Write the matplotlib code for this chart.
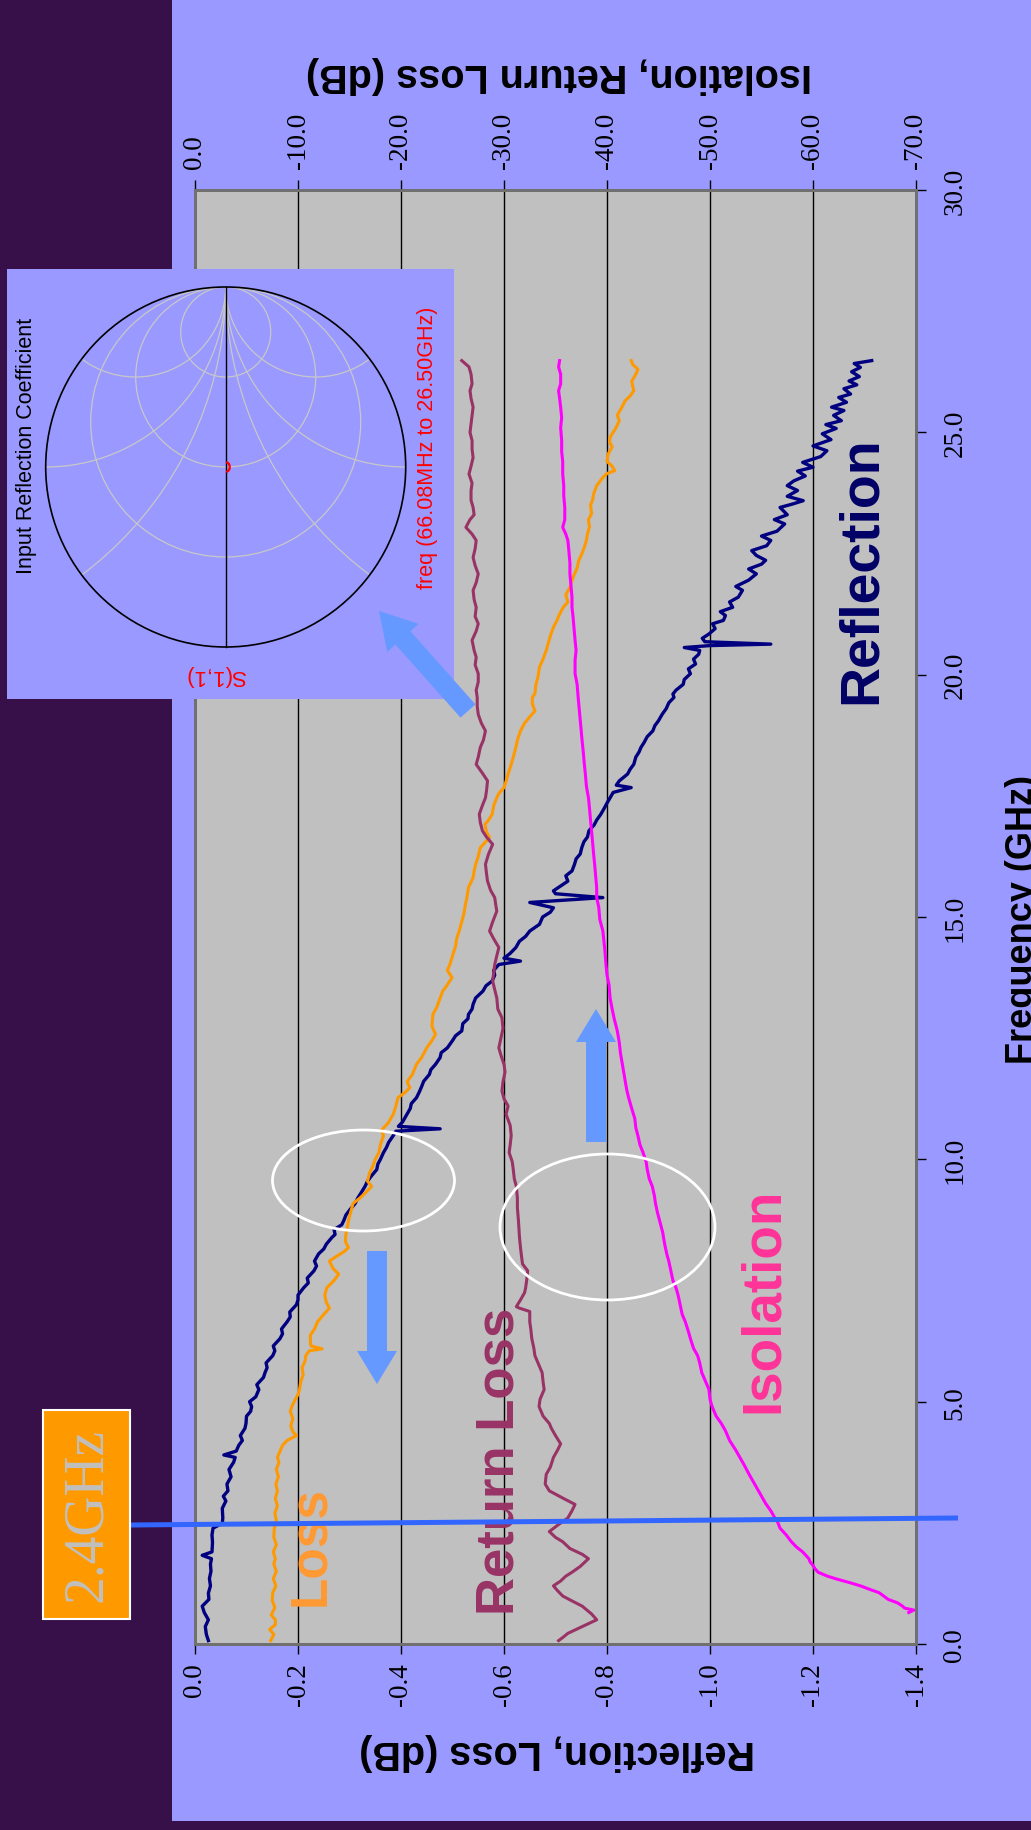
import numpy as np
import matplotlib
matplotlib.use("Agg")
import matplotlib.pyplot as plt
from matplotlib.patches import Rectangle, Circle, Ellipse, FancyArrow, Arc

plt.rcParams['font.family'] = ['Liberation Sans', 'DejaVu Sans']
plt.rcParams['axes.unicode_minus'] = False

# ---------------- data (frequency GHz, value dB) ----------------
reflection = [(0.07,-0.026),(0.2,-0.022),(0.36,-0.02),(0.5,-0.026),(0.65,-0.018),(0.78,-0.014),(0.92,-0.027),(1.05,-0.026),(1.2,-0.03),(1.35,-0.028),(1.5,-0.031),(1.65,-0.03),(1.76,-0.032),(1.83,-0.014),(1.9,-0.033),(2.1,-0.034),(2.25,-0.033),(2.39,-0.035),(2.49,-0.053),(2.6,-0.054),(2.8,-0.053),(2.95,-0.06),(3.05,-0.055),(3.16,-0.064),(3.3,-0.062),(3.45,-0.07),(3.6,-0.066),(3.75,-0.075),(3.85,-0.078),(3.9,-0.056),(3.98,-0.08),(4.1,-0.085),(4.2,-0.092),(4.3,-0.088),(4.45,-0.097),(4.55,-0.099),(4.7,-0.1),(4.8,-0.108),(4.9,-0.11),(5.0,-0.106),(5.1,-0.118),(5.25,-0.124),(5.35,-0.12),(5.5,-0.133),(5.6,-0.136),(5.7,-0.14),(5.8,-0.138),(5.95,-0.151),(6.05,-0.155),(6.15,-0.152),(6.3,-0.165),(6.4,-0.17),(6.5,-0.168),(6.65,-0.179),(6.75,-0.185),(6.85,-0.184),(7.0,-0.197),(7.1,-0.2),(7.2,-0.2),(7.35,-0.211),(7.45,-0.22),(7.55,-0.218),(7.7,-0.231),(7.8,-0.236),(7.9,-0.232),(8.05,-0.24),(8.15,-0.25),(8.25,-0.255),(8.39,-0.266),(8.45,-0.272),(8.55,-0.27),(8.65,-0.285),(8.74,-0.289),(8.85,-0.293),(8.95,-0.3),(9.09,-0.311),(9.2,-0.316),(9.3,-0.322),(9.44,-0.33),(9.55,-0.335),(9.65,-0.342),(9.79,-0.353),(9.9,-0.355),(10.0,-0.36),(10.14,-0.366),(10.25,-0.372),(10.35,-0.376),(10.49,-0.385),(10.58,-0.39),(10.63,-0.476),(10.68,-0.395),(10.77,-0.403),(10.9,-0.41),(11.05,-0.418),(11.15,-0.42),(11.27,-0.43),(11.4,-0.436),(11.5,-0.44),(11.61,-0.444),(11.75,-0.455),(11.85,-0.458),(11.96,-0.467),(12.1,-0.476),(12.2,-0.478),(12.3,-0.49),(12.45,-0.5),(12.55,-0.506),(12.65,-0.518),(12.8,-0.52),(12.9,-0.53),(12.99,-0.531),(13.1,-0.538),(13.2,-0.54),(13.33,-0.545),(13.47,-0.559),(13.58,-0.565),(13.68,-0.577),(13.8,-0.582),(13.9,-0.58),(14.02,-0.59),(14.09,-0.632),(14.15,-0.6),(14.25,-0.612),(14.37,-0.623),(14.5,-0.63),(14.6,-0.642),(14.71,-0.65),(14.85,-0.669),(15.0,-0.675),(15.1,-0.69),(15.19,-0.696),(15.3,-0.65),(15.4,-0.792),(15.48,-0.7),(15.54,-0.696),(15.64,-0.71),(15.74,-0.724),(15.85,-0.72),(15.95,-0.732),(16.09,-0.737),(16.2,-0.74),(16.3,-0.748),(16.43,-0.751),(16.55,-0.755),(16.65,-0.762),(16.78,-0.765),(16.9,-0.775),(17.0,-0.78),(17.12,-0.788),(17.25,-0.795),(17.35,-0.8),(17.46,-0.806),(17.57,-0.812),(17.67,-0.847),(17.72,-0.818),(17.81,-0.824),(17.95,-0.84),(18.05,-0.845),(18.15,-0.852),(18.3,-0.856),(18.4,-0.862),(18.5,-0.866),(18.6,-0.872),(18.72,-0.878),(18.84,-0.889),(18.95,-0.893),(19.05,-0.9),(19.18,-0.907),(19.3,-0.915),(19.42,-0.92),(19.53,-0.93),(19.6,-0.928),(19.68,-0.934),(19.8,-0.948),(19.9,-0.95),(20.02,-0.962),(20.12,-0.958),(20.22,-0.972),(20.32,-0.968),(20.42,-0.978),(20.5,-0.98),(20.56,-0.95),(20.6,-1.0),(20.63,-1.118),(20.68,-0.99),(20.75,-0.985),(20.84,-0.998),(20.95,-1.01),(21.05,-1.005),(21.12,-1.026),(21.22,-1.03),(21.3,-1.02),(21.39,-1.044),(21.5,-1.038),(21.6,-1.055),(21.74,-1.063),(21.82,-1.05),(21.95,-1.075),(22.08,-1.09),(22.18,-1.075),(22.28,-1.1),(22.36,-1.108),(22.46,-1.09),(22.56,-1.081),(22.66,-1.11),(22.77,-1.118),(22.86,-1.1),(22.96,-1.13),(23.11,-1.145),(23.2,-1.125),(23.3,-1.15),(23.45,-1.136),(23.52,-1.16),(23.59,-1.181),(23.68,-1.15),(23.8,-1.17),(23.9,-1.15),(24.0,-1.163),(24.1,-1.185),(24.2,-1.17),(24.28,-1.2),(24.38,-1.18),(24.5,-1.215),(24.62,-1.227),(24.72,-1.2),(24.85,-1.235),(24.97,-1.218),(25.08,-1.245),(25.16,-1.225),(25.24,-1.255),(25.35,-1.24),(25.45,-1.26),(25.52,-1.236),(25.62,-1.265),(25.72,-1.25),(25.79,-1.273),(25.9,-1.26),(25.98,-1.285),(26.06,-1.27),(26.15,-1.29),(26.25,-1.275),(26.34,-1.292),(26.42,-1.28),(26.48,-1.314)]

loss = [(0.07,-0.147),(0.2,-0.153),(0.3,-0.145),(0.4,-0.156),(0.5,-0.156),(0.6,-0.148),(0.75,-0.155),(0.9,-0.15),(1.06,-0.151),(1.2,-0.157),(1.35,-0.152),(1.5,-0.158),(1.65,-0.153),(1.76,-0.156),(1.9,-0.152),(2.05,-0.158),(2.2,-0.153),(2.39,-0.154),(2.55,-0.158),(2.7,-0.155),(2.85,-0.16),(3.0,-0.156),(3.16,-0.16),(3.3,-0.157),(3.45,-0.162),(3.6,-0.158),(3.75,-0.163),(3.85,-0.16),(4.0,-0.166),(4.1,-0.17),(4.2,-0.179),(4.3,-0.197),(4.38,-0.19),(4.5,-0.186),(4.65,-0.19),(4.8,-0.185),(4.9,-0.188),(5.05,-0.195),(5.15,-0.2),(5.25,-0.203),(5.4,-0.205),(5.55,-0.21),(5.7,-0.208),(5.85,-0.214),(5.95,-0.215),(6.05,-0.222),(6.09,-0.247),(6.15,-0.225),(6.25,-0.224),(6.37,-0.224),(6.5,-0.232),(6.65,-0.238),(6.8,-0.25),(6.93,-0.261),(7.05,-0.255),(7.2,-0.252),(7.35,-0.256),(7.5,-0.27),(7.63,-0.279),(7.75,-0.268),(7.9,-0.261),(8.0,-0.275),(8.1,-0.29),(8.18,-0.298),(8.3,-0.292),(8.46,-0.293),(8.6,-0.296),(8.74,-0.298),(8.9,-0.302),(9.09,-0.307),(9.2,-0.32),(9.3,-0.33),(9.44,-0.343),(9.55,-0.335),(9.72,-0.339),(9.85,-0.345),(10.0,-0.35),(10.14,-0.357),(10.3,-0.36),(10.49,-0.366),(10.6,-0.362),(10.75,-0.375),(10.93,-0.385),(11.1,-0.39),(11.27,-0.394),(11.4,-0.41),(11.48,-0.417),(11.6,-0.412),(11.75,-0.422),(11.96,-0.43),(12.1,-0.44),(12.3,-0.45),(12.45,-0.46),(12.58,-0.467),(12.75,-0.46),(12.99,-0.462),(13.15,-0.47),(13.3,-0.475),(13.47,-0.481),(13.6,-0.49),(13.75,-0.499),(13.9,-0.49),(14.02,-0.495),(14.2,-0.5),(14.4,-0.506),(14.55,-0.508),(14.71,-0.513),(14.9,-0.518),(15.06,-0.522),(15.25,-0.525),(15.4,-0.528),(15.61,-0.531),(15.81,-0.54),(15.95,-0.542),(16.09,-0.545),(16.25,-0.55),(16.43,-0.554),(16.64,-0.572),(16.75,-0.566),(16.91,-0.563),(17.0,-0.57),(17.12,-0.577),(17.3,-0.58),(17.46,-0.586),(17.55,-0.59),(17.67,-0.6),(17.8,-0.604),(17.95,-0.608),(18.15,-0.614),(18.3,-0.618),(18.5,-0.623),(18.65,-0.626),(18.84,-0.632),(19.0,-0.64),(19.13,-0.65),(19.25,-0.66),(19.4,-0.655),(19.53,-0.655),(19.61,-0.66),(19.8,-0.662),(19.95,-0.666),(20.16,-0.669),(20.3,-0.675),(20.5,-0.682),(20.65,-0.686),(20.8,-0.69),(20.98,-0.696),(21.1,-0.702),(21.25,-0.708),(21.39,-0.715),(21.5,-0.724),(21.65,-0.72),(21.8,-0.728),(21.95,-0.732),(22.08,-0.737),(22.2,-0.742),(22.35,-0.745),(22.49,-0.751),(22.6,-0.755),(22.77,-0.76),(22.9,-0.762),(23.05,-0.766),(23.2,-0.764),(23.32,-0.77),(23.5,-0.768),(23.6,-0.772),(23.73,-0.774),(23.9,-0.78),(24.0,-0.787),(24.07,-0.792),(24.15,-0.8),(24.21,-0.815),(24.3,-0.81),(24.4,-0.8),(24.55,-0.802),(24.7,-0.81),(24.8,-0.805),(24.9,-0.806),(25.05,-0.815),(25.15,-0.82),(25.24,-0.824),(25.35,-0.82),(25.52,-0.829),(25.65,-0.835),(25.75,-0.845),(25.86,-0.852),(25.95,-0.85),(26.05,-0.848),(26.2,-0.856),(26.3,-0.86),(26.4,-0.85),(26.48,-0.847)]

return_loss = [(0.07,-35.3),(0.15,-35.8),(0.22,-36.2),(0.35,-37.5),(0.5,-39.0),(0.62,-38.5),(0.78,-37.6),(0.9,-36.5),(0.99,-35.7),(1.1,-35.2),(1.2,-34.8),(1.3,-35.5),(1.4,-36.0),(1.48,-36.6),(1.6,-37.4),(1.76,-38.2),(1.85,-37.6),(1.97,-36.4),(2.05,-36.0),(2.11,-35.7),(2.2,-35.0),(2.32,-34.4),(2.45,-35.2),(2.6,-36.2),(2.75,-36.6),(2.88,-36.9),(3.0,-35.8),(3.16,-34.4),(3.3,-34.0),(3.5,-34.1),(3.65,-34.5),(3.85,-34.8),(4.0,-35.2),(4.13,-35.5),(4.3,-35.0),(4.45,-34.6),(4.55,-34.4),(4.7,-33.8),(4.9,-33.4),(5.05,-33.5),(5.25,-33.9),(5.4,-33.8),(5.6,-33.7),(5.8,-33.3),(5.95,-33.0),(6.1,-32.9),(6.3,-32.7),(6.5,-32.6),(6.65,-32.5),(6.86,-32.5),(6.93,-31.5),(6.96,-31.2),(7.1,-31.6),(7.25,-32.0),(7.35,-32.1),(7.5,-32.2),(7.7,-32.3),(7.84,-31.8),(8.0,-31.7),(8.18,-31.6),(8.4,-31.5),(8.74,-31.4),(9.0,-31.3),(9.2,-31.3),(9.44,-31.2),(9.6,-31.0),(9.79,-30.9),(9.95,-30.8),(10.14,-30.5),(10.3,-30.6),(10.49,-30.7),(10.7,-30.6),(10.93,-30.2),(11.1,-30.4),(11.25,-30.0),(11.41,-29.8),(11.6,-29.9),(11.8,-30.1),(11.96,-30.0),(12.15,-29.7),(12.3,-29.5),(12.5,-29.7),(12.7,-29.9),(12.92,-29.8),(13.1,-29.4),(13.33,-29.3),(13.5,-29.1),(13.68,-28.9),(13.85,-29.0),(14.02,-29.1),(14.2,-29.3),(14.37,-29.5),(14.55,-29.0),(14.71,-28.6),(14.9,-28.9),(15.12,-29.3),(15.25,-29.2),(15.4,-29.1),(15.55,-28.7),(15.74,-28.4),(15.9,-28.3),(16.09,-28.2),(16.3,-28.5),(16.5,-28.9),(16.65,-28.3),(16.78,-27.9),(16.95,-27.7),(17.12,-27.6),(17.3,-27.9),(17.46,-28.2),(17.6,-28.3),(17.81,-28.4),(18.0,-27.8),(18.15,-27.3),(18.3,-27.5),(18.5,-27.7),(18.65,-28.0),(18.84,-28.2),(19.0,-27.8),(19.18,-27.5),(19.35,-27.4),(19.53,-27.4),(19.68,-27.3),(19.85,-27.5),(20.02,-27.5),(20.2,-27.2),(20.36,-27.3),(20.5,-27.1),(20.71,-26.9),(20.9,-27.3),(21.05,-27.5),(21.2,-27.2),(21.39,-27.3),(21.55,-27.1),(21.74,-27.0),(21.9,-27.3),(22.08,-27.5),(22.25,-27.2),(22.42,-27.0),(22.6,-27.2),(22.77,-27.3),(22.9,-26.9),(23.04,-26.3),(23.2,-26.7),(23.3,-27.1),(23.45,-27.0),(23.6,-26.8),(23.8,-26.8),(23.95,-26.9),(24.14,-26.6),(24.3,-26.8),(24.48,-27.0),(24.65,-26.9),(24.83,-26.9),(25.0,-26.7),(25.17,-26.8),(25.35,-26.9),(25.52,-27.0),(25.7,-26.8),(25.86,-26.7),(26.0,-26.9),(26.2,-26.8),(26.35,-26.6),(26.48,-25.9)]

isolation = [(0.65,-69.3),(0.7,-69.8),(0.74,-68.9),(0.78,-68.7),(0.85,-68.2),(0.92,-67.3),(1.0,-66.8),(1.06,-66.4),(1.12,-65.6),(1.2,-64.6),(1.27,-63.5),(1.34,-62.3),(1.4,-61.4),(1.48,-60.5),(1.55,-60.2),(1.62,-60.0),(1.7,-59.7),(1.76,-59.6),(1.9,-59.0),(2.0,-58.4),(2.11,-57.9),(2.25,-57.4),(2.39,-56.8),(2.5,-56.6),(2.6,-56.3),(2.75,-55.9),(2.9,-55.4),(3.05,-55.0),(3.16,-54.7),(3.35,-54.2),(3.5,-53.8),(3.7,-53.3),(3.85,-52.9),(4.0,-52.5),(4.2,-51.9),(4.4,-51.5),(4.55,-51.1),(4.7,-50.6),(4.9,-50.2),(5.05,-50.0),(5.25,-49.9),(5.45,-49.5),(5.6,-49.2),(5.8,-49.0),(5.95,-48.8),(6.1,-48.4),(6.3,-48.1),(6.45,-47.9),(6.65,-47.6),(6.8,-47.3),(7.0,-47.1),(7.2,-46.9),(7.35,-46.7),(7.5,-46.4),(7.7,-46.2),(7.9,-46.0),(8.05,-45.8),(8.25,-45.6),(8.5,-45.4),(8.74,-45.1),(8.9,-44.9),(9.1,-44.7),(9.25,-44.6),(9.44,-44.4),(9.6,-44.1),(9.8,-43.9),(9.95,-43.8),(10.14,-43.5),(10.3,-43.2),(10.49,-43.0),(10.65,-42.8),(10.84,-42.7),(11.05,-42.4),(11.27,-42.1),(11.45,-41.9),(11.7,-41.7),(11.96,-41.5),(12.2,-41.3),(12.4,-41.2),(12.65,-41.0),(12.9,-40.7),(13.1,-40.5),(13.33,-40.3),(13.6,-40.2),(13.8,-40.0),(14.02,-39.9),(14.3,-39.8),(14.5,-39.7),(14.71,-39.6),(14.95,-39.3),(15.2,-39.2),(15.4,-39.0),(15.6,-39.0),(15.85,-38.9),(16.09,-38.8),(16.3,-38.7),(16.55,-38.6),(16.78,-38.5),(17.0,-38.4),(17.25,-38.3),(17.46,-38.2),(17.7,-38.0),(17.95,-37.9),(18.15,-37.8),(18.4,-37.7),(18.6,-37.6),(18.84,-37.5),(19.1,-37.4),(19.3,-37.3),(19.53,-37.2),(19.8,-37.1),(20.02,-36.9),(20.3,-36.9),(20.5,-37.0),(20.71,-36.9),(20.95,-36.8),(21.2,-36.7),(21.39,-36.6),(21.6,-36.6),(21.85,-36.5),(22.08,-36.4),(22.3,-36.4),(22.55,-36.3),(22.77,-36.2),(22.9,-36.0),(23.04,-35.7),(23.2,-35.9),(23.45,-35.9),(23.7,-35.8),(23.9,-35.8),(24.14,-35.7),(24.4,-35.7),(24.6,-35.6),(24.83,-35.6),(25.1,-35.5),(25.3,-35.6),(25.52,-35.5),(25.7,-35.4),(25.86,-35.3),(26.0,-35.5),(26.2,-35.5),(26.35,-35.3),(26.48,-35.4)]

bottom_ticks = [0.0, -0.2, -0.4, -0.6, -0.8, -1.0, -1.2, -1.4]
bottom_labels = ["0.0", "-0.2", "-0.4", "-0.6", "-0.8", "-1.0", "-1.2", "-1.4"]
top_ticks = [0, -10, -20, -30, -40, -50, -60, -70]
top_labels = ["0.0", "-10.0", "-20.0", "-30.0", "-40.0", "-50.0", "-60.0", "-70.0"]
freq_ticks = [0, 5, 10, 15, 20, 25, 30]
freq_labels = ["0.0", "5.0", "10.0", "15.0", "20.0", "25.0", "30.0"]

W, H = 1031, 1831
PURPLE = '#37104A'
PANEL = '#9999FF'

fig = plt.figure(figsize=(W / 100, H / 100), dpi=100, facecolor=PURPLE)

# background panel
bg = fig.add_axes([0, 0, 1, 1], zorder=0)
bg.set_xlim(0, W); bg.set_ylim(H, 0); bg.axis('off')
bg.add_patch(Rectangle((172, 0), W - 172, 1822, fc=PANEL, ec='none'))

# main axes (pixel box 195..916 x 191..1645)
L, R, T, B = 195, 916, 191, 1645
ax = fig.add_axes([L / W, 1 - B / H, (R - L) / W, (B - T) / H], zorder=2)
ax.set_facecolor('#C0C0C0')
ax.set_xlim(0, -1.4)
ax.set_ylim(0, 30)

serif = 'Liberation Serif'
TS = 19.5
ax.set_xticks(bottom_ticks, labels=bottom_labels, rotation=90, fontfamily=serif, fontsize=TS)
ax.tick_params(axis='x', direction='out', length=7, width=1, pad=6, colors='black')
ax.xaxis.grid(True, color='black', lw=1)
ax.yaxis.grid(False)
ax.yaxis.tick_right()
ax.set_yticks(freq_ticks, labels=freq_labels, rotation=90, fontfamily=serif, fontsize=TS, va='center')
ax.tick_params(axis='y', direction='out', length=7, width=1, pad=12)
for s in ax.spines.values():
    s.set_color('#707070'); s.set_linewidth(2)

rf, rv = zip(*reflection)
lf, lv = zip(*loss)
ax.plot(rv, rf, color='#000080', lw=2.4, zorder=3)
ax.plot(lv, lf, color='#FF9900', lw=2.2, zorder=3)

ax2 = ax.twiny()
ax2.set_zorder(3)
ax2.patch.set_visible(False)
ax2.set_xlim(0, -70)
ax2.set_xticks(top_ticks, labels=top_labels, rotation=90, fontfamily=serif, fontsize=TS)
ax2.tick_params(axis='x', direction='out', length=7, width=1, pad=9)
ax2.tick_params(axis='y', left=False, right=False, labelleft=False, labelright=False)
for s in ax2.spines.values():
    s.set_color('#707070'); s.set_linewidth(2)
retf, retv = zip(*return_loss)
isf, isv = zip(*isolation)
ax2.plot(retv, retf, color='#993366', lw=2.2)
ax2.plot(isv, isf, color='#FF00FF', lw=2.2)

# overlay in pixel coords
ov = fig.add_axes([0, 0, 1, 1], zorder=5)
ov.set_xlim(0, W); ov.set_ylim(H, 0); ov.axis('off')
ov.patch.set_alpha(0)

# Smith chart inset
ov.add_patch(Rectangle((7, 270), 447, 430, fc=PANEL, ec='none', zorder=1))
cx, cy, Rs = 225.7, 468.0, 180.0
unit = Circle((cx, cy), Rs, fill=False, ec='black', lw=1.2, zorder=4)
clip = Circle((cx, cy), Rs, transform=ov.transData)
grid_c = '#C8C8C8'
def g2p(u, v):
    return cx + v * Rs, cy - u * Rs
for r in [1/3, 1.0, 3.0]:
    px, py = g2p(r / (1 + r), 0)
    c = Circle((px, py), Rs / (1 + r), fill=False, ec=grid_c, lw=0.9, zorder=2)
    ov.add_patch(c); c.set_clip_path(clip)
for xr in [0.5, 1.0, 2.0]:
    for sgn in [1, -1]:
        px, py = g2p(1, sgn / xr)
        c = Circle((px, py), Rs / xr, fill=False, ec=grid_c, lw=0.9, zorder=2)
        ov.add_patch(c); c.set_clip_path(clip)
ov.plot([cx, cx], [cy - Rs, cy + Rs], color='black', lw=1, zorder=3)
ov.add_patch(unit)
ov.add_patch(Arc((cx + 1, cy), 6, 9, theta1=-100, theta2=100, color='red', lw=1.6, zorder=5))
ov.text(27, 446, 'Input Reflection Coefficient', rotation=90, ha='center', va='center',
        fontsize=15.5, color='black')
ov.text(428, 448, 'freq (66.08MHz to 26.50GHz)', rotation=90, ha='center', va='center',
        fontsize=15.5, color='red')
ov.text(215, 675, 'S(1,1)', rotation=180, ha='center', va='center', fontsize=16, color='red')

# arrows
AC = '#6699FF'
ov.add_patch(FancyArrow(377, 1252, 0, 133, width=20, head_width=40, head_length=33,
                        length_includes_head=True, fc=AC, ec='none', zorder=6))
ov.add_patch(FancyArrow(596, 1143, 0, -133, width=20, head_width=40, head_length=33,
                        length_includes_head=True, fc=AC, ec='none', zorder=6))
ov.add_patch(FancyArrow(468, 712, 379 - 468, 612 - 712, width=20, head_width=42, head_length=36,
                        length_includes_head=True, fc=AC, ec='none', zorder=6))

# ellipses
ov.add_patch(Ellipse((363.5, 1181.5), 182, 101, fill=False, ec='white', lw=2, zorder=6))
ov.add_patch(Ellipse((607.5, 1228), 215, 146, fill=False, ec='white', lw=2, zorder=6))

# series labels
ov.text(311, 1546, 'Loss', rotation=90, ha='center', va='center', fontsize=37,
        fontweight='bold', color='#FF9933', zorder=6)
ov.text(499, 1461, 'Return Loss', rotation=90, ha='center', va='center', fontsize=38,
        fontweight='bold', color='#993366', zorder=6)
ov.text(764, 1300, 'Isolation', rotation=90, ha='center', va='center', fontsize=39.5,
        fontweight='bold', color='#FF3399', zorder=6)
ov.text(862, 570, 'Reflection', rotation=90, ha='center', va='center', fontsize=40,
        fontweight='bold', color='#000066', zorder=6)

# 2.4 GHz marker
ov.plot([130, 958], [1526, 1519], color='#3366FF', lw=3.6, zorder=7, solid_capstyle='butt')
ov.add_patch(Rectangle((43, 1411), 87, 209, fc='#FF9900', ec='white', lw=1.5, zorder=7))
ov.text(87, 1515, '2.4GHz', rotation=90, ha='center', va='center', fontsize=40,
        fontfamily=serif, color='#C0C0C0', zorder=8)

# axis titles
ov.text(557, 1752, 'Reflection, Loss (dB)', rotation=180, ha='center', va='center',
        fontsize=28.5, fontweight='bold', color='black')
ov.text(559, 75, 'Isolation, Return Loss (dB)', rotation=180, ha='center', va='center',
        fontsize=28.5, fontweight='bold', color='black')
ov.text(1023, 920, 'Frequency (GHz)', rotation=90, ha='center', va='center',
        fontsize=26, fontweight='bold', color='black')

fig.savefig('out.png', dpi=100, facecolor=PURPLE)
